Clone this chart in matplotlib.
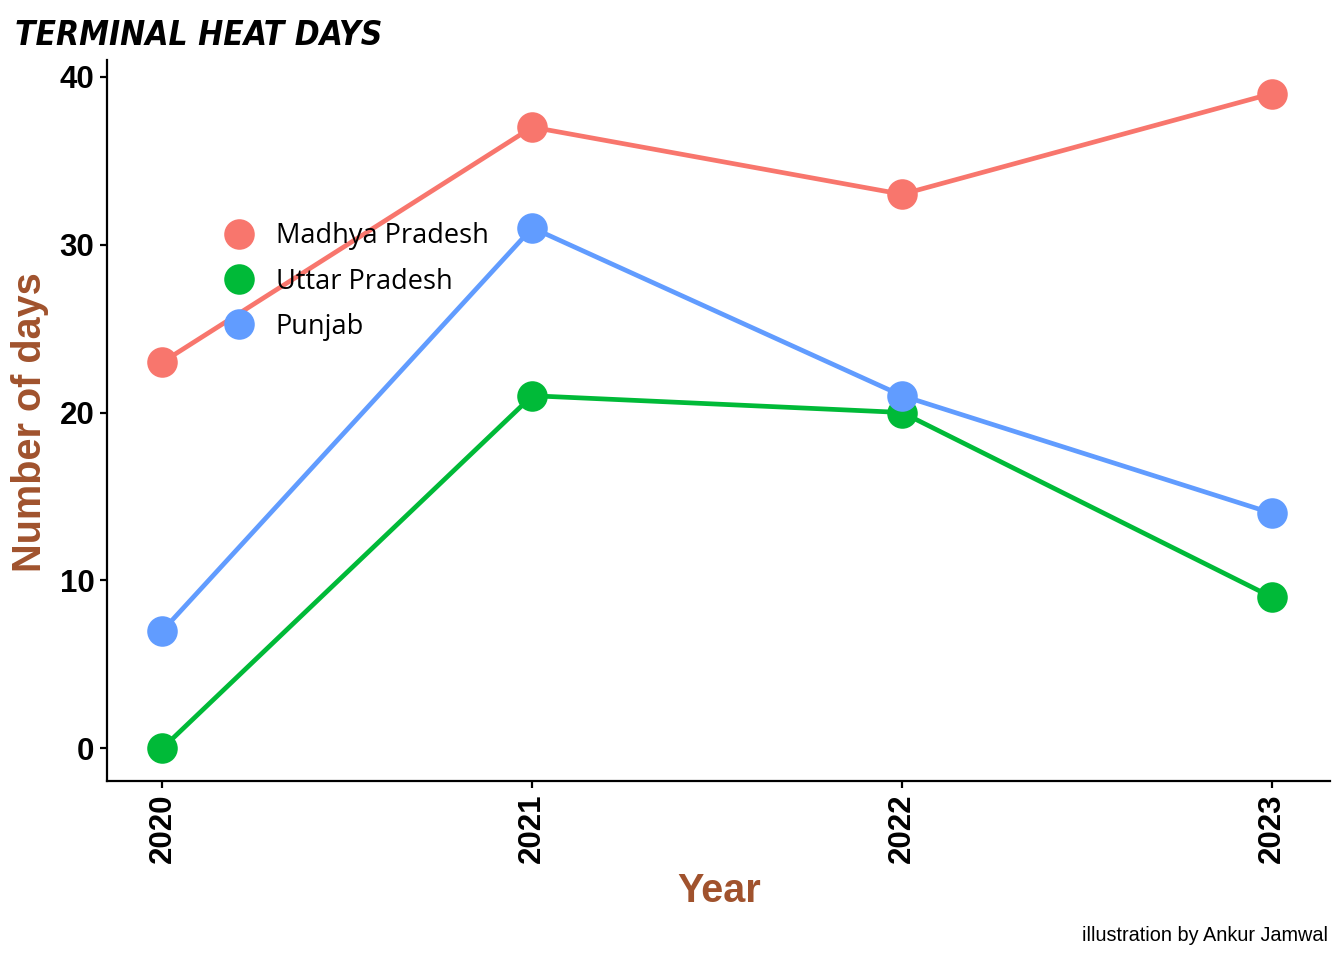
import matplotlib
matplotlib.use("Agg")
import matplotlib.pyplot as plt
from matplotlib.lines import Line2D

# data
years = [2020, 2021, 2022, 2023]
states = ["Madhya Pradesh", "Uttar Pradesh", "Punjab"]
madhya = [23, 37, 33, 39]
uttar = [0, 21, 20, 9]
punjab = [7, 31, 21, 14]
colors = ["#F8766D", "#00BA38", "#619CFF"]

fig = plt.figure(figsize=(13.44, 9.6), dpi=100)
ax = fig.add_axes([0.0796, 0.1865, 0.9100, 0.751])

for vals, c in zip([madhya, uttar, punjab], colors):
    ax.plot(years, vals, color=c, lw=3.4, zorder=2)
    ax.plot(years, vals, "o", color=c, ms=22, mew=0, zorder=3)

ax.set_xlim(2019.85, 2023.157)
ax.set_ylim(-1.95, 41.0)
ax.set_xticks(years)
ax.set_xticklabels([str(y) for y in years], rotation=90)
ax.set_yticks([0, 10, 20, 30, 40])

for s in ["top", "right"]:
    ax.spines[s].set_visible(False)
for s in ["left", "bottom"]:
    ax.spines[s].set_linewidth(1.6)
ax.tick_params(length=5, width=1.6, pad=4, labelsize=22.5)
for lab in ax.get_xticklabels() + ax.get_yticklabels():
    lab.set_fontfamily("Liberation Sans")
    lab.set_fontweight("bold")

fig.text(0.0223, 0.56, "Number of days", rotation=90, ha="center", va="center",
         fontsize=28.5, fontweight="bold", color="#A0522D", family="Liberation Sans")
fig.text(0.535, 0.072, "Year", ha="center", va="center",
         fontsize=28.5, fontweight="bold", color="#A0522D", family="Liberation Sans")

# title font in the original is a condensed display face; closest available
fig.text(0.011, 0.953, "TERMINAL HEAT DAYS", ha="left", va="baseline",
         fontsize=24, fontweight="heavy", fontstyle="italic", fontstretch="condensed",
         family=["DejaVu Sans"])

fig.text(0.988, 0.026, "illustration by Ankur Jamwal", ha="right", va="center",
         fontsize=14.3, family="Liberation Sans")

handles = [Line2D([], [], ls="", marker="o", ms=22, mew=0, color=c) for c in colors]
leg = ax.legend(handles, states, loc="upper left", bbox_to_anchor=(0.077, 0.79),
                frameon=False, prop={"family": "Open Sans", "size": 19.5},
                handletextpad=0.35, labelspacing=0.64, borderaxespad=0)

fig.savefig("out.png", dpi=100)
